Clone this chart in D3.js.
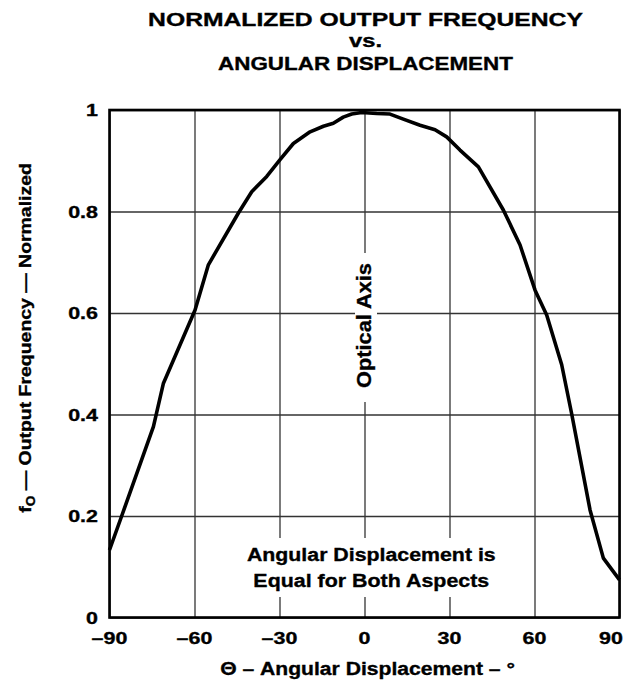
<!DOCTYPE html>
<html>
<head>
<meta charset="utf-8">
<script src="https://cdn.jsdelivr.net/npm/d3@7"></script>
<style>
  html, body { margin: 0; padding: 0; background: #fff; }
  svg { display: block; }
  text { font-family: "Liberation Sans", Arial, Helvetica, sans-serif; font-weight: bold; fill: #000; stroke: #000; stroke-width: 0.35; }
</style>
</head>
<body>
<svg id="chart" width="631" height="685"></svg>
<script>
// ---- data ----
const angles = [-90, -85.7, -74.5, -71, -59.8, -55.1, -44.5, -39.8, -34.5, -29.8, -25.1, -19.2, -14.5, -11, -7.5, -4.5, -1,
                4.3, 9, 13.7, 19.6, 24.9, 29, 33.7, 40.2, 49, 54.9, 60.2, 64.3, 69.6, 73.1, 79.6, 84.3, 90];
const values = [0.133, 0.2, 0.376, 0.461, 0.606, 0.695, 0.797, 0.839, 0.869, 0.902, 0.934, 0.957, 0.968, 0.974, 0.986, 0.992, 0.995,
                0.993, 0.992, 0.982, 0.970, 0.961, 0.947, 0.921, 0.888, 0.803, 0.734, 0.645, 0.596, 0.498, 0.402, 0.212, 0.117, 0.074];
const xTicks = [-90, -60, -30, 0, 30, 60, 90];
const xTickLabels = ["\u201390", "\u201360", "\u201330", "0", "30", "60", "90"];
const yTicks = [0, 0.2, 0.4, 0.6, 0.8, 1];
const yTickLabels = ["0", "0.2", "0.4", "0.6", "0.8", "1"];
const titleLines = ["NORMALIZED OUTPUT FREQUENCY", "vs.", "ANGULAR DISPLACEMENT"];
const xAxisTitle = "\u0398 \u2013 Angular Displacement \u2013 \u00B0";
const noteLines = ["Angular Displacement is", "Equal for Both Aspects"];
const axisNote = "Optical Axis";

// ---- layout ----
const svg = d3.select("#chart");
const L = 109.5, R = 619.5, T = 110, B = 617.5;
const x = d3.scaleLinear().domain([-90, 90]).range([L, R]);
const y = d3.scaleLinear().domain([0, 1]).range([B, T]);

// gridlines via axes
const gx = svg.append("g").attr("transform", `translate(0,${B})`)
  .call(d3.axisBottom(x).tickValues(xTicks).tickSize(-(B - T)).tickFormat(""));
const gy = svg.append("g").attr("transform", `translate(${L},0)`)
  .call(d3.axisLeft(y).tickValues(yTicks).tickSize(-(R - L)).tickFormat(""));
[gx, gy].forEach(g => {
  g.select(".domain").remove();
  g.selectAll(".tick line").attr("stroke", "#333").attr("stroke-width", 1.3);
});

// white boxes behind in-plot notes
svg.append("rect").attr("x", 355).attr("y", 253).attr("width", 22).attr("height", 149).attr("fill", "#fff");
svg.append("rect").attr("x", 240).attr("y", 538).attr("width", 262).attr("height", 59).attr("fill", "#fff");

// frame
svg.append("rect").attr("x", L).attr("y", T).attr("width", R - L).attr("height", B - T)
  .attr("fill", "none").attr("stroke", "#000").attr("stroke-width", 2.6);

// curve
const pts = angles.map((a, i) => [a, values[i]]);
svg.append("path").datum(pts)
  .attr("d", d3.line().x(d => x(d[0])).y(d => y(d[1])))
  .attr("fill", "none").attr("stroke", "#000").attr("stroke-width", 3.6)
  .attr("stroke-linejoin", "round").attr("stroke-linecap", "butt");

// text helper: fit natural text to target length
function fitText(str, cx, cy, size, len, rot) {
  const t = svg.append("text").attr("font-size", size).attr("text-anchor", "middle").text(str);
  const nat = t.node().getComputedTextLength();
  const s = len / nat;
  t.attr("transform", `translate(${cx},${cy}) rotate(${rot || 0}) scale(${s},1)`);
  return t;
}

// title
fitText(titleLines[0], 365.5, 26, 18.5, 435);
fitText(titleLines[1], 365.5, 47, 18.5, 33);
fitText(titleLines[2], 365.5, 70, 18.5, 295);

// tick labels
const TS = 16.5, SX = 1.3;
xTicks.forEach((v, i) => {
  const cx = v === 90 ? 611 : x(v);
  svg.append("text").attr("font-size", TS).attr("text-anchor", "middle")
    .attr("transform", `translate(${cx},${643.5}) scale(${SX},1)`).text(xTickLabels[i]);
});
yTicks.forEach((v, i) => {
  svg.append("text").attr("font-size", TS).attr("text-anchor", "end")
    .attr("transform", `translate(98,${y(v) + 6}) scale(${SX},1)`).text(yTickLabels[i]);
});

// x axis title
fitText(xAxisTitle, 367.5, 675, 18.5, 295);

// y axis title with subscript
(function () {
  const t = svg.append("text").attr("font-size", 17).attr("text-anchor", "middle");
  t.append("tspan").text("f");
  t.append("tspan").attr("font-size", 12).attr("dy", 4).text("O");
  t.append("tspan").attr("dy", -4).text(" \u2014 Output Frequency \u2014 Normalized");
  const nat = t.node().getComputedTextLength();
  t.attr("transform", `translate(31,338) rotate(-90) scale(${350 / nat},1)`);
})();

// in-plot notes
fitText(axisNote, 371, 325.5, 19.5, 125, -90);
fitText(noteLines[0], 371.3, 560.7, 19, 249);
fitText(noteLines[1], 371.3, 586.7, 19, 236);
</script>
</body>
</html>
